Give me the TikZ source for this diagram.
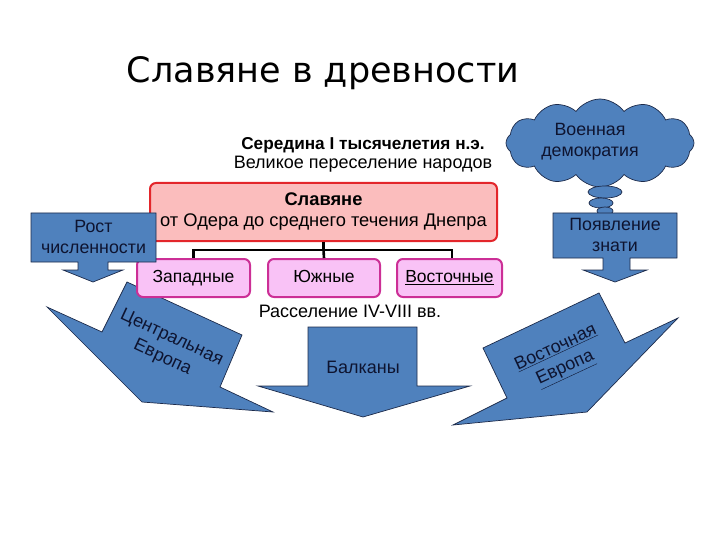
\documentclass[tikz,border=0pt]{standalone}
\usepackage{fontspec}
\setmainfont{Liberation Sans}
\newfontfamily\titlefont{DejaVu Sans}
\usetikzlibrary{shapes.symbols}
\definecolor{sblue}{HTML}{4F81BD}
\definecolor{sedge}{HTML}{1C2A4A}
\definecolor{pinkfill}{HTML}{FBBDBD}
\definecolor{pinkedge}{HTML}{E3262B}
\definecolor{subfill}{HTML}{F9C2F6}
\definecolor{subedge}{HTML}{CC2F96}
\definecolor{bluetext}{HTML}{0E1430}
\begin{document}
\begin{tikzpicture}[x=1pt,y=-1pt,
  bluebody/.style={fill=sblue, draw=sedge, line width=0.7pt, line join=miter},
  bluetxt/.style={text=bluetext, align=center, font=\fontsize{17.8}{21}\selectfont, inner sep=0pt},
  bigtxt/.style={text=bluetext, align=center, font=\fontsize{18}{22}\selectfont, inner sep=0pt},
  slavbox/.style={fill=pinkfill, draw=pinkedge, line width=2pt, rounded corners=6pt, align=center, font=\fontsize{18.3}{21}\selectfont},
  subbox/.style={fill=subfill, draw=subedge, line width=2pt, rounded corners=6pt, font=\fontsize{17.5}{20}\selectfont, inner sep=0pt, text height=12.5pt, text depth=3.5pt},
  treeline/.style={draw=black, line width=2.6pt},
  plain/.style={font=\fontsize{18}{21}\selectfont, inner sep=0pt}
]
\useasboundingbox (0,0) rectangle (720,540);

% title
\node[font=\titlefont\fontsize{35}{42}\selectfont, anchor=base, inner sep=0pt] (title) at (323,83) {Славяне в древности};

% header
\node[plain, font=\bfseries\fontsize{17.2}{20}\selectfont] (hdr1) at (363,145) {Середина I тысячелетия н.э.};
\node[plain] (hdr2) at (363,164) {Великое переселение народов};

% big arrows (behind boxes)
\path[bluebody] (127,282) -- (242,335) -- (220,387) -- (273,412) -- (142,402) -- (47,307) -- (102,332) -- cycle;
\node[bigtxt, rotate=-25] (central) at (167,348) {Центральная\\Европа};

\path[bluebody] (308,327) -- (417,327) -- (417,386) -- (470,386) -- (363,417) -- (258,386) -- (308,386) -- cycle;
\node[bigtxt] (balkan) at (363,367) {Балканы};

\path[bluebody] (599,293) -- (625,343) -- (678,318) -- (587,412) -- (453,425) -- (507,398) -- (483,348) -- cycle;
\node[bigtxt, rotate=25] (eastern) at (561,359) {\underline{Восточная}\\\underline{Европа}};

% slavs box and branches
\node[slavbox, minimum width=347pt, minimum height=58pt] (slav) at (323.5,212) {\textbf{Славяне}\\от Одера до среднего течения Днепра};
\node[subbox, minimum width=113pt, minimum height=38pt] (zap) at (193.5,278) {Западные};
\node[subbox, minimum width=112pt, minimum height=38pt] (yuzh) at (324,278) {Южные};
\node[subbox, minimum width=105pt, minimum height=38pt] (vost) at (449.5,278) {\underline{Восточные}};
\coordinate (hub) at (323.5,250);
\draw[treeline] (slav.south) -- (hub);
\draw[treeline] (hub) -| (zap.north);
\draw[treeline] (hub) -- (yuzh.north);
\draw[treeline] (hub) -| ([xshift=2.5pt]vost.north);

\node[plain] (rassel) at (350,311) {Расселение IV-VIII вв.};

% left callout
\path[bluebody] (31,213) -- (156,213) -- (156,262) -- (108,262) -- (108,270) -- (123,270) -- (93,282) -- (63,270) -- (78,270) -- (78,262) -- (31,262) -- cycle;
\node[bluetxt] (rost) at (93.5,237) {Рост\\численности};

% cloud
\node[cloud, cloud puffs=12, cloud puff arc=110, aspect=2.1, fill=sblue, draw=sedge, line width=0.7pt,
      minimum width=188pt, minimum height=88pt, inner sep=0pt] (cloud) at (600,143) {};
\node[bluetxt] (cloudtxt) at (590,142) {Военная\\демократия};
\draw[fill=sblue, draw=sedge, line width=0.7pt] (605,192) ellipse [x radius=17, y radius=6];
\draw[fill=sblue, draw=sedge, line width=0.7pt] (601,203) ellipse [x radius=12, y radius=5];
\draw[fill=sblue, draw=sedge, line width=0.7pt] (605,211) ellipse [x radius=8, y radius=4];

% right callout
\path[bluebody] (553,213) -- (677,213) -- (677,258) -- (630,258) -- (630,270) -- (647,270) -- (615,282) -- (583,270) -- (603,270) -- (603,258) -- (553,258) -- cycle;
\node[bluetxt] (znat) at (615,235) {Появление\\знати};
\end{tikzpicture}
\end{document}
